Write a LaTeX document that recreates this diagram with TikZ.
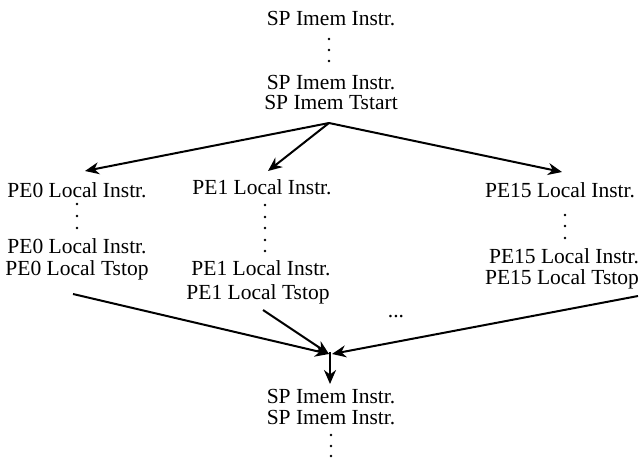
\documentclass[tikz,border=0pt]{standalone}
\usepackage{fontspec}
\setmainfont{Liberation Serif}
\usetikzlibrary{arrows.meta}
\begin{document}
\begin{tikzpicture}[x=1pt,y=-1pt,
  lbl/.style={inner sep=0pt,text height=14pt,text depth=4pt,font=\rmfamily\fontsize{21.5}{23}\selectfont},
  arr/.style={line width=2pt,-{Stealth[length=14pt,width=12pt,inset=4.5pt]}},
  dotc/.style={fill=black}]
\useasboundingbox (0,0) rectangle (641,458);
% top column
\node[lbl] (t1) at (331,20) {SP Imem Instr.};
\foreach \y in {39,50,61} \fill[dotc] (329,\y) circle (1.3pt);
\node[lbl] (t2) at (331,84) {SP Imem Instr.};
\node[lbl] (t3) at (331,104) {SP Imem Tstart};
\coordinate (apex) at (329,123);
% PE0
\node[lbl] (a1) at (77,192) {PE0 Local Instr.};
\foreach \y in {204,216,228} \fill[dotc] (77,\y) circle (1.3pt);
\node[lbl] (a2) at (77,248) {PE0 Local Instr.};
\node[lbl] (a3) at (77,270) {PE0 Local Tstop};
% PE1
\node[lbl] (b1) at (262,189) {PE1 Local Instr.};
\foreach \y in {205,217,228,240,251} \fill[dotc] (265,\y) circle (1.3pt);
\node[lbl] (b2) at (261,270) {PE1 Local Instr.};
\node[lbl] (b3) at (258,294) {PE1 Local Tstop};
% PE15
\node[lbl] (c1) at (560,192) {PE15 Local Instr.};
\foreach \y in {215,226,238} \fill[dotc] (565,\y) circle (1.3pt);
\node[lbl] (c2) at (564,258) {PE15 Local Instr.};
\node[lbl] (c3) at (562,279) {PE15 Local Tstop};
% ellipsis
\node[lbl] (ell) at (396,312) {...};
% bottom column
\node[lbl] (d1) at (331,398) {SP Imem Instr.};
\node[lbl] (d2) at (331,419) {SP Imem Instr.};
\foreach \y in {435,446,456} \fill[dotc] (331,\y) circle (1.3pt);
% connector ends
\coordinate (tip0) at (85,171);
\coordinate (tip1) at (268,171);
\coordinate (tip15) at (562,172);
\coordinate (s0) at (73,294);
\coordinate (s1) at (263,310);
\coordinate (s15) at (638,296);
\coordinate (m0) at (329,354);
\coordinate (m1) at (329,354);
\coordinate (m15) at (332,354);
\coordinate (mdown) at (330,352);
\coordinate (down) at (330,384);
\draw[arr] (apex) -- (tip0);
\draw[arr] (apex) -- (tip1);
\draw[arr] (apex) -- (tip15);
\draw[arr] (s0) -- (m0);
\draw[arr] (s1) -- (m1);
\draw[arr] (s15) -- (m15);
\draw[arr] (mdown) -- (down);
\end{tikzpicture}
\end{document}
